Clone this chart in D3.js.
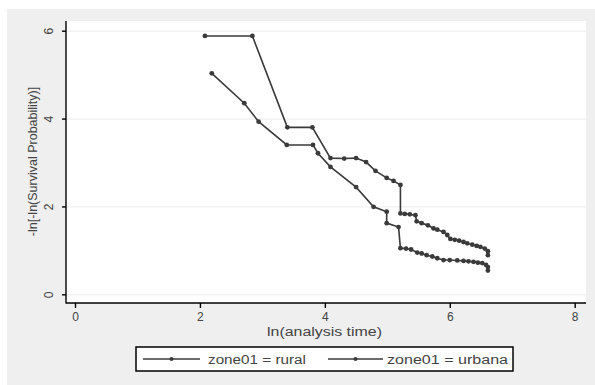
<!DOCTYPE html>
<html>
<head>
    <meta charset="utf-8">
    <title>-ln[-ln(S)] by zone01</title>
    <script src="https://cdn.jsdelivr.net/npm/d3@7"></script>
    <style>
        body { padding: 0; margin: 0; background: #fff; }
        text { font-family: "Liberation Sans", Arial, sans-serif; fill: #444; }
        .grid line { stroke: #ececec; stroke-width: 1; }
        .grid path { stroke-width: 0; }
    </style>
</head>
<body>
    <svg id="svg" width="595" height="385"></svg>

    <script>
        // ln(analysis time) and -ln[-ln(S)]
        const ruralX = [2.08, 2.84, 3.40, 3.80, 4.09, 4.31, 4.50, 4.66, 4.81, 4.99, 5.10, 5.21,
                        5.21, 5.28, 5.36, 5.45, 5.47, 5.55, 5.65, 5.74, 5.80, 5.90, 5.96, 6.01,
                        6.08, 6.15, 6.22, 6.28, 6.36, 6.43, 6.49, 6.56, 6.61, 6.61];
        const ruralY = [5.88, 5.88, 3.80, 3.80, 3.10, 3.09, 3.10, 3.01, 2.81, 2.65, 2.58, 2.49,
                        1.84, 1.83, 1.82, 1.80, 1.66, 1.62, 1.57, 1.50, 1.47, 1.42, 1.35, 1.26,
                        1.24, 1.22, 1.19, 1.16, 1.13, 1.10, 1.08, 1.04, 0.98, 0.89];
        const urbanaX = [2.19, 2.71, 2.94, 3.39, 3.81, 3.89, 4.09, 4.50, 4.78, 4.99, 4.99, 5.18,
                         5.21, 5.30, 5.38, 5.48, 5.55, 5.63, 5.72, 5.80, 5.90, 6.00, 6.12, 6.22,
                         6.30, 6.38, 6.45, 6.52, 6.58, 6.61, 6.61];
        const urbanaY = [5.03, 4.35, 3.93, 3.40, 3.40, 3.21, 2.90, 2.44, 1.99, 1.88, 1.62, 1.53,
                         1.05, 1.04, 1.02, 0.95, 0.93, 0.89, 0.86, 0.82, 0.78, 0.78, 0.77, 0.76,
                         0.75, 0.74, 0.72, 0.71, 0.67, 0.62, 0.54];
        const xTicks = [0, 2, 4, 6, 8];
        const yTicks = [0, 2, 4, 6];
        const legendLabels = ["zone01 = rural", "zone01 = urbana"];

        const series = [
            ruralX.map((v, i) => ({ x: v, y: ruralY[i] })),
            urbanaX.map((v, i) => ({ x: v, y: urbanaY[i] }))
        ];

        const svg = d3.select("svg");
        const ink = "#3a3a3a";

        // Plot region (Stata style: axes sit on the region edge, data inset)
        const plot = { left: 66, right: 586, top: 21, bottom: 303 };

        const x = d3.scaleLinear().domain([0, 8]).range([75, 574.7]);
        const y = d3.scaleLinear().domain([0, 6]).range([294.3, 30.7]);

        // Backgrounds
        svg.append("rect").attr("x", 7).attr("y", 9).attr("width", 588).attr("height", 376).attr("fill", "#efefef");
        svg.append("rect").attr("x", plot.left).attr("y", plot.top)
            .attr("width", plot.right - plot.left).attr("height", plot.bottom - plot.top)
            .attr("fill", "#fff");

        // Y gridlines
        svg.append("g")
            .attr("class", "grid")
            .attr("transform", `translate(${plot.left},0)`)
            .call(d3.axisLeft(y).tickValues(yTicks).tickSize(-(plot.right - plot.left)).tickFormat(""));

        // Axis lines
        svg.append("line").attr("x1", plot.left).attr("x2", plot.left).attr("y1", plot.top).attr("y2", plot.bottom + 0.5)
            .attr("stroke", "#000").attr("stroke-width", 1.4);
        svg.append("line").attr("x1", plot.left).attr("x2", plot.right).attr("y1", plot.bottom).attr("y2", plot.bottom)
            .attr("stroke", "#000").attr("stroke-width", 1.4);

        // X axis
        const gx = svg.append("g")
            .attr("transform", `translate(0,${plot.bottom})`)
            .call(d3.axisBottom(x).tickValues(xTicks).tickSize(5).tickSizeOuter(0).tickPadding(4));
        gx.select(".domain").remove();
        gx.selectAll(".tick line").attr("stroke", "#000").attr("stroke-width", 1.4);
        gx.selectAll("text").attr("fill", "#444").style("font-size", "12px").attr("font-family", null);

        // Y axis (labels rotated like Stata)
        const gy = svg.append("g")
            .attr("transform", `translate(${plot.left},0)`)
            .call(d3.axisLeft(y).tickValues(yTicks).tickSize(4).tickSizeOuter(0).tickFormat(d => d));
        gy.select(".domain").remove();
        gy.selectAll(".tick line").attr("stroke", "#000").attr("stroke-width", 1.4);
        gy.selectAll("text")
            .attr("x", 0).attr("dy", null)
            .attr("transform", "translate(-16,0) rotate(-90)")
            .attr("text-anchor", "middle")
            .attr("dominant-baseline", "middle")
            .attr("fill", "#444").style("font-size", "12px").attr("font-family", null);

        // Axis titles (horizontal text in the reference is stretched wide)
        svg.append("text")
            .attr("x", 267).attr("y", 336)
            .attr("textLength", 115).attr("lengthAdjust", "spacingAndGlyphs")
            .style("font-size", "12.5px")
            .text("ln(analysis time)");
        svg.append("text")
            .attr("transform", `translate(37,${(83 + 240) / 2}) rotate(-90)`)
            .attr("text-anchor", "middle").style("font-size", "12.5px")
            .text("-ln[-ln(Survival Probability)]");

        // Series
        const line = d3.line().x(d => x(d.x)).y(d => y(d.y));
        series.forEach(s => {
            svg.append("path")
                .datum(s)
                .attr("fill", "none")
                .attr("stroke", ink)
                .attr("stroke-width", 1.6)
                .attr("d", line);
            svg.append("g").selectAll("circle")
                .data(s)
                .join("circle")
                .attr("cx", d => x(d.x))
                .attr("cy", d => y(d.y))
                .attr("r", 2.4)
                .attr("fill", ink);
        });

        // Legend
        const lg = svg.append("g");
        lg.append("rect").attr("x", 136).attr("y", 347).attr("width", 377).attr("height", 24)
            .attr("fill", "#fff").attr("stroke", "#000").attr("stroke-width", 1.5);
        const items = [{ x0: 143, x1: 200, tx: 208, w: 98 }, { x0: 328, x1: 383, tx: 387, w: 121 }];
        items.forEach((it, i) => {
            lg.append("line").attr("x1", it.x0).attr("x2", it.x1).attr("y1", 359).attr("y2", 359)
                .attr("stroke", ink).attr("stroke-width", 1.4);
            lg.append("circle").attr("cx", (it.x0 + it.x1) / 2).attr("cy", 359).attr("r", 2).attr("fill", ink);
            lg.append("text").attr("x", it.tx).attr("y", 363.5)
                .attr("textLength", it.w).attr("lengthAdjust", "spacingAndGlyphs")
                .style("font-size", "12.5px").text(legendLabels[i]);
        });
    </script>
</body>
</html>
